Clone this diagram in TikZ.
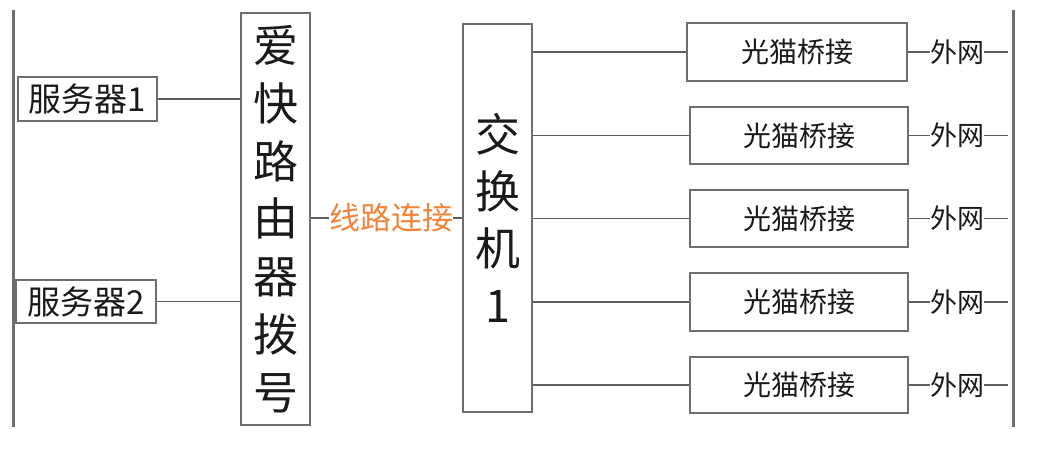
\documentclass[tikz,border=0pt]{standalone}
\usepackage{fontspec}
\setmainfont{Noto Sans CJK SC}
\definecolor{boxline}{HTML}{6E6E6E}
\definecolor{conn}{HTML}{5E5E5E}
\definecolor{txt}{HTML}{1A1A1A}
\definecolor{orangetxt}{HTML}{F0843A}
\begin{document}
\begin{tikzpicture}[x=1pt,y=-1pt,
  box/.style={draw=boxline,line width=1.4pt,rectangle,inner sep=0pt,text=txt},
  wire/.style={draw=conn,line width=1.3pt},
  bar/.style={draw=boxline,line width=3pt},
  wantxt/.style={inner sep=0pt,text=txt,font=\fontsize{27}{27}\selectfont}
]
\useasboundingbox (0,0) rectangle (1037,448);
% side bars
\coordinate (lt) at (13,10); \coordinate (lb) at (13,427);
\coordinate (rt) at (1013,10); \coordinate (rb) at (1013,427);
\draw[bar] (lt) -- (lb);
\draw[bar] (rt) -- (rb);
% servers
\node[box,minimum width=139pt,minimum height=44pt,font=\fontsize{33}{33}\selectfont] (srv1) at (87.5,99) {服务器1};
\node[box,minimum width=140pt,minimum height=43pt,font=\fontsize{33}{33}\selectfont] (srv2) at (86,301.5) {服务器2};
% router
\node[box,minimum width=69pt,minimum height=412pt,align=center,font=\fontsize{45}{57.8}\selectfont] (router) at (275.5,219) {爱\\快\\路\\由\\器\\拨\\号};
% switch
\node[box,minimum width=69pt,minimum height=388pt,align=center,font=\fontsize{45}{57}\selectfont] (switch) at (497.5,218) {交\\换\\机\\1};
% modems
\foreach \i/\cx/\cy/\w/\h in {1/797/52/220/58, 2/799/135.5/218/57, 3/799/218.5/218/57, 4/799/302/218/58, 5/799/385/218/56}{
  \node[box,minimum width=\w pt,minimum height=\h pt,font=\fontsize{28}{28}\selectfont] (mod\i) at (\cx,\cy) {光猫桥接};
  \node[wantxt,anchor=west] (wan\i) at (930,\cy) {外网};
  \coordinate (end\i) at (1008,\cy);
}
% connections
\draw[wire] (srv1.east) -- (srv1.east -| router.west);
\draw[wire] (srv2.east) -- (srv2.east -| router.west);
\draw[wire] (router.east |- 0,218) -- (switch.west |- 0,218);
\node[fill=white,inner sep=0pt,text=orangetxt,font=\fontsize{31}{31}\selectfont] (lbl) at (391,218) {线路连接};
\foreach \i in {1,...,5}{
  \draw[wire] (switch.east |- mod\i.west) -- (mod\i.west);
  \draw[wire] (mod\i.east) -- (wan\i.west);
  \draw[wire] (wan\i.east) -- (end\i);
}
\end{tikzpicture}
\end{document}
